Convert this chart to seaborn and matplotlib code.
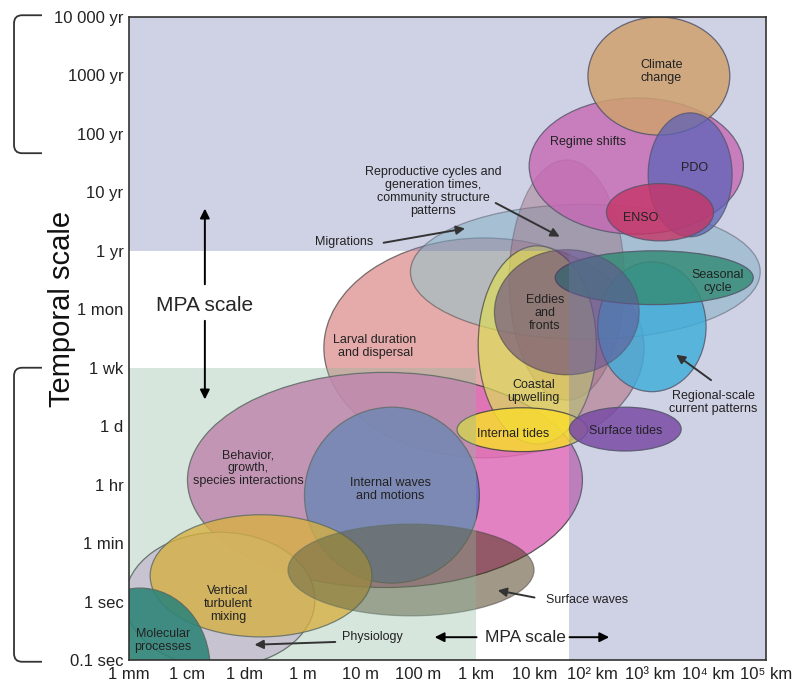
import numpy as np
import pandas as pd
import seaborn as sns
import matplotlib
matplotlib.use("Agg")
import matplotlib.pyplot as plt
from matplotlib.patches import Ellipse, Polygon, PathPatch
from matplotlib.path import Path

# axis steps: one step = about one order of magnitude
space_labels = ["1 mm", "1 cm", "1 dm", "1 m", "10 m", "100 m", "1 km", "10 km",
                "10² km", "10³ km", "10⁴ km", "10⁵ km"]
time_labels = ["0.1 sec", "1 sec", "1 min", "1 hr", "1 d", "1 wk", "1 mon",
               "1 yr", "10 yr", "100 yr", "1000 yr", "10 000 yr"]

# processes - centre and extent, in axis steps
process = ["larval", "migrations", "behavior", "physiology", "internal_waves",
           "vertical_mixing", "molecular", "surface_waves", "reproductive",
           "regime", "climate", "pdo", "enso", "upwelling", "regional",
           "seasonal", "eddies", "internal_tides", "surface_tides"]
x_mid = [6.13, 7.88, 4.42, 1.57, 4.54, 2.28, 0.19, 4.87, 7.56,
         8.76, 9.15, 9.69, 9.17, 7.05, 9.03, 9.07, 7.56, 6.79, 8.57]
y_mid = [5.34, 6.64, 3.08, 1.03, 2.82, 1.44, -0.14, 1.54, 6.50,
         8.45, 9.99, 8.30, 7.66, 5.39, 5.70, 6.54, 5.95, 3.94, 3.95]
x_span = [5.53, 6.04, 6.82, 3.28, 3.02, 3.83, 2.42, 4.25, 1.99,
          3.70, 2.45, 1.45, 1.85, 2.04, 1.87, 3.42, 2.50, 2.25, 1.93]
y_span = [3.76, 2.31, 3.68, 2.31, 3.01, 2.09, 2.74, 1.57, 4.11,
          2.33, 2.02, 2.12, 0.98, 3.39, 2.22, 0.92, 2.14, 0.75, 0.75]

# MPA scale limits and the broad-scale zone
mpa_space_max = 6      # 1 km
mpa_time_max = 5       # 1 wk
broad_space_min = 7.6
broad_time_min = 7     # 1 yr

df = pd.DataFrame({"process": process, "x": x_mid, "y": y_mid,
                   "w": x_span, "h": y_span})

colors = {
    "larval": ("#db8686", 0.7), "migrations": ("#86c8cc", 0.5),
    "behavior": ("#df6cb8", 0.85), "physiology": ("#e8c2ec", 0.9),
    "internal_waves": ("#526bc1", 0.75), "vertical_mixing": ("#ffab13", 0.8),
    "molecular": ("#006965", 0.9), "surface_waves": ("#463210", 0.5),
    "reproductive": ("#b05a5a", 0.4), "regime": ("#f25eb6", 0.8),
    "climate": ("#ffb54a", 0.85), "pdo": ("#5155bb", 0.75),
    "enso": ("#f0103e", 0.8), "upwelling": ("#dcdc5a", 0.7),
    "regional": ("#1ec8f0", 0.8), "seasonal": ("#14965a", 0.85),
    "eddies": ("#5a3a80", 0.55), "internal_tides": ("#f8dc30", 0.85),
    "surface_tides": ("#7e31a0", 0.85),
}

sns.set_theme(style="white")
plt.rcParams["font.family"] = ["Liberation Sans", "DejaVu Sans"]

fig = plt.figure(figsize=(7.96, 6.84), dpi=100)
ax = fig.add_axes([129 / 796, 24 / 684, 637 / 796, 643 / 684])
ax.set_xlim(0, 11)
ax.set_ylim(0, 11)

for _, r in df.iterrows():
    c, a = colors[r["process"]]
    e = Ellipse((r["x"], r["y"]), r["w"], r["h"], facecolor=c, edgecolor="#404040",
                lw=0.9, alpha=a, zorder=2)
    ax.add_patch(e)

# shaded zones laid over the ellipses
broad = Polygon([(0, broad_time_min), (broad_space_min, broad_time_min),
                 (broad_space_min, 0), (11, 0), (11, 11), (0, 11)],
                closed=True, facecolor=(118 / 255, 124 / 255, 178 / 255),
                alpha=0.35, lw=0, zorder=3)
mpa = Polygon([(0, 0), (mpa_space_max, 0), (mpa_space_max, mpa_time_max),
               (0, mpa_time_max)], closed=True,
              facecolor=(138 / 255, 186 / 255, 158 / 255), alpha=0.35, lw=0, zorder=3)
ax.add_patch(broad)
ax.add_patch(mpa)

# labels
lab_fs = 9
labels = [
    ("Climate\nchange", 9.19, 10.06), ("Regime shifts", 7.93, 8.86),
    ("PDO", 9.76, 8.42), ("ENSO", 8.83, 7.56), ("Seasonal\ncycle", 10.17, 6.47),
    ("Eddies\nand\nfronts", 7.18, 5.94), ("Larval duration\nand dispersal", 4.25, 5.37),
    ("Coastal\nupwelling", 6.99, 4.60), ("Internal tides", 6.63, 3.87),
    ("Surface tides", 8.57, 3.92),
    ("Behavior,\ngrowth,\nspecies interactions", 2.06, 3.28),
    ("Internal waves\nand motions", 4.51, 2.91),
    ("Vertical\nturbulent\nmixing", 1.71, 0.96),
    ("Molecular\nprocesses", 0.59, 0.34),
]
for t, x, y in labels:
    ax.text(x, y, t, ha="center", va="center", fontsize=lab_fs, color="#222222",
            linespacing=1.1, zorder=5)

arrow_kw = dict(arrowstyle="-|>", color="#333333", lw=1.4, mutation_scale=13)
callouts = [
    ("Migrations", (3.71, 7.15), (4.35, 7.13), (5.85, 7.39)),
    ("Reproductive cycles and\ngeneration times,\ncommunity structure\npatterns",
     (5.25, 8.01), (6.29, 7.84), (7.48, 7.22)),
    ("Regional-scale\ncurrent patterns", (10.09, 4.40), (10.09, 4.76), (9.41, 5.25)),
    ("Surface waves", (7.91, 1.03), (7.05, 1.06), (6.32, 1.20)),
    ("Physiology", (4.21, 0.39), (3.61, 0.31), (2.12, 0.26)),
]
for t, txy, start, end in callouts:
    ax.text(*txy, t, ha="center", va="center", fontsize=lab_fs, color="#222222",
            linespacing=1.1, zorder=5)
    ax.annotate("", xy=end, xytext=start, arrowprops=arrow_kw, zorder=5)

# MPA scale markers
mpa_kw = dict(arrowstyle="-|>", color="black", lw=1.4, mutation_scale=14)
ax.text(1.31, 6.07, "MPA scale", ha="center", va="center", fontsize=15, zorder=5)
ax.annotate("", xy=(1.31, 7.77), xytext=(1.31, 6.38), arrowprops=mpa_kw, zorder=5)
ax.annotate("", xy=(1.31, 4.41), xytext=(1.31, 5.85), arrowprops=mpa_kw, zorder=5)
ax.text(6.84, 0.39, "MPA scale", ha="center", va="center", fontsize=12.5, zorder=5)
ax.annotate("", xy=(5.23, 0.39), xytext=(6.05, 0.39), arrowprops=mpa_kw, zorder=5)
ax.annotate("", xy=(8.34, 0.39), xytext=(7.56, 0.39), arrowprops=mpa_kw, zorder=5)

# axes
ax.set_xticks(np.arange(len(space_labels)))
ax.set_xticklabels(space_labels, fontsize=12)
ax.set_yticks(np.arange(len(time_labels)))
ax.set_yticklabels(time_labels, fontsize=12)
ax.tick_params(direction="in", length=6, width=1, color="#333333",
               labelcolor="#222222")
ax.tick_params(axis="x", pad=5)
ax.tick_params(axis="y", pad=4)
for s in ax.spines.values():
    s.set_color("#333333")
    s.set_linewidth(1.2)
    s.set_zorder(6)

ax.text(-0.105, 0.546, "Temporal scale", transform=ax.transAxes, rotation=90,
        ha="center", va="center", fontsize=21, color="#111111")

# brackets on the left
def bracket(y_top, y_bot):
    tr = ax.get_yaxis_transform()
    x0, x1, rx, ry = -0.1805, -0.1366, 0.0126, 0.14
    verts = [(x1, y_top), (x0 + rx, y_top), (x0, y_top), (x0, y_top - ry),
             (x0, y_bot + ry), (x0, y_bot), (x0 + rx, y_bot), (x1, y_bot)]
    codes = [Path.MOVETO, Path.LINETO, Path.CURVE3, Path.CURVE3,
             Path.LINETO, Path.CURVE3, Path.CURVE3, Path.LINETO]
    p = PathPatch(Path(verts, codes), transform=tr, fill=False, ec="#333333",
                  lw=1.3, clip_on=False)
    ax.add_patch(p)

bracket(11.03, 8.67)
bracket(5.0, -0.03)

fig.savefig("out.png", dpi=100)
